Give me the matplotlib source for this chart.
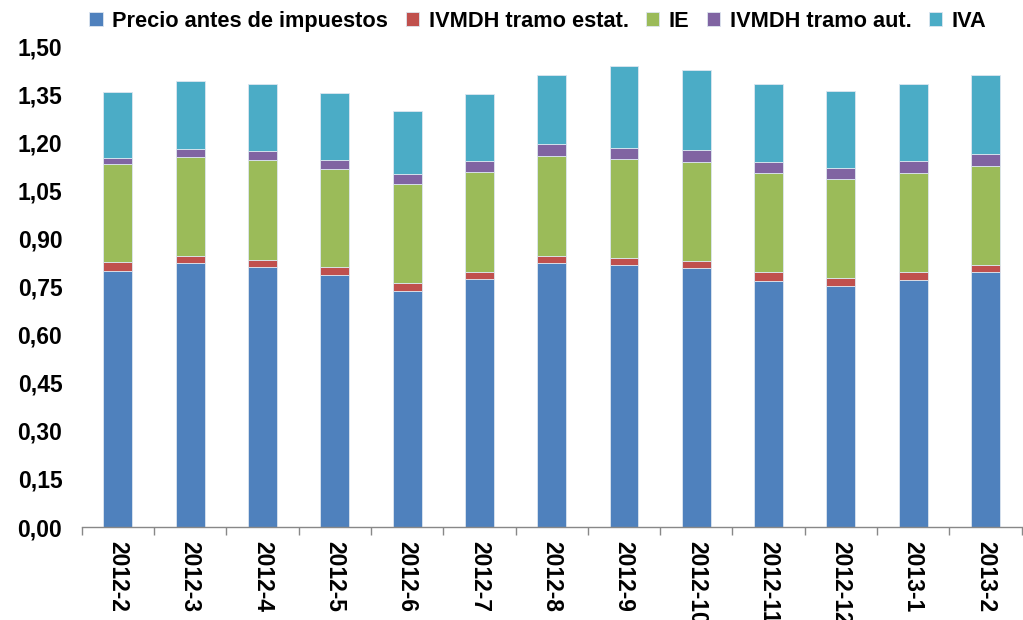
import matplotlib
matplotlib.use("Agg")
import matplotlib.pyplot as plt
from matplotlib.ticker import FuncFormatter, FixedLocator, MultipleLocator
import numpy as np

plt.rcParams['font.family'] = ['Liberation Sans', 'DejaVu Sans']

meses = ["2012-2", "2012-3", "2012-4", "2012-5", "2012-6", "2012-7", "2012-8",
         "2012-9", "2012-10", "2012-11", "2012-12", "2013-1", "2013-2"]

precio = [0.798, 0.823, 0.810, 0.785, 0.737, 0.773, 0.823,
          0.816, 0.807, 0.767, 0.752, 0.771, 0.794]
ivmdh_estat = [0.027, 0.023, 0.024, 0.025, 0.023, 0.023, 0.023,
               0.024, 0.023, 0.027, 0.025, 0.023, 0.023]
ie = [0.307, 0.309, 0.309, 0.307, 0.309, 0.310, 0.310,
      0.308, 0.308, 0.309, 0.308, 0.309, 0.309]
ivmdh_aut = [0.018, 0.023, 0.029, 0.029, 0.031, 0.035, 0.038,
             0.035, 0.037, 0.035, 0.035, 0.038, 0.038]
iva = [0.206, 0.213, 0.211, 0.208, 0.197, 0.209, 0.215,
       0.254, 0.249, 0.242, 0.240, 0.239, 0.245]

series = [("Precio antes de impuestos", precio, "#4F81BD"),
          ("IVMDH tramo estat.", ivmdh_estat, "#C0504D"),
          ("IE", ie, "#9BBB59"),
          ("IVMDH tramo aut.", ivmdh_aut, "#8064A2"),
          ("IVA", iva, "#4BACC6")]

fig = plt.figure(figsize=(10.23, 6.2), dpi=100)
ax = fig.add_axes([0.0799, 0.15, 0.9188, 0.7758])

x = np.arange(len(meses))
bottom = np.zeros(len(meses))
for name, vals, color in series:
    ax.bar(x, vals, 0.4, bottom=bottom, color=color, label=name,
           edgecolor="#dde6f0", linewidth=0.6)
    bottom += np.array(vals)

ax.set_xlim(-0.5, len(meses) - 0.5)
ax.set_ylim(0, 1.5)
ax.yaxis.set_major_locator(MultipleLocator(0.15))
ax.yaxis.set_major_formatter(FuncFormatter(lambda v, p: f"{v:.2f}".replace(".", ",")))

ax.set_xticks(x)
ax.set_xticklabels(meses, rotation=-90, fontsize=16.5, fontweight="bold", va="top")
ax.xaxis.set_minor_locator(FixedLocator(np.arange(-0.5, len(meses), 1.0)))
ax.tick_params(axis="x", which="major", length=0, pad=10)
ax.tick_params(axis="x", which="minor", length=6, color="#888888", width=1)
ax.tick_params(axis="y", length=0, pad=14, labelsize=16.5)
for lab in ax.get_yticklabels():
    lab.set_fontweight("bold")

for s in ["top", "right", "left"]:
    ax.spines[s].set_visible(False)
ax.spines["bottom"].set_color("#888888")
ax.spines["bottom"].set_linewidth(1)

leg = fig.legend(loc="center", bbox_to_anchor=(0.526, 0.966), ncol=5, frameon=False,
                 prop={"weight": "bold", "size": 15.7}, handlelength=0.6, handleheight=0.6,
                 handletextpad=0.45, columnspacing=0.8)

fig.savefig("out.png", dpi=100)
